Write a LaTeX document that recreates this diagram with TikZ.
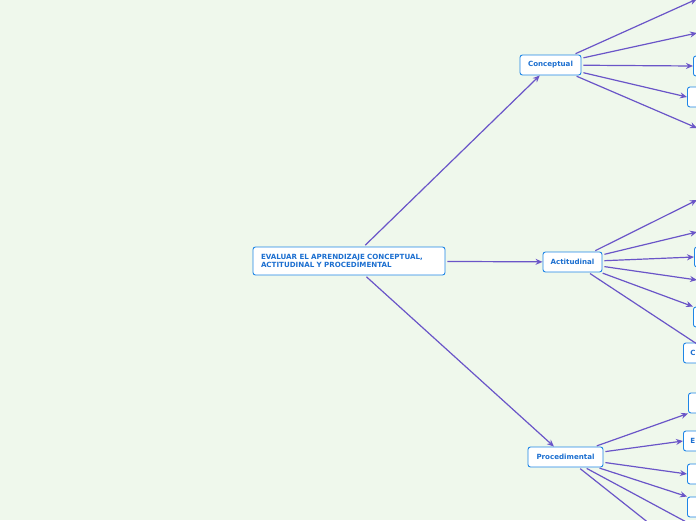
\documentclass[tikz,border=0pt]{standalone}
\usepackage{fontspec}
\setmainfont{DejaVu Sans}
\usetikzlibrary{arrows.meta}
\definecolor{bg}{HTML}{EFF8EC}
\definecolor{nodeborder}{HTML}{1E86E6}
\definecolor{nodetext}{HTML}{1C6FD0}
\definecolor{edgecol}{HTML}{6A55C8}
\tikzset{
  box/.style={draw=nodeborder, fill=white, rounded corners=2.5pt, line width=0.9pt,
    text=nodetext, font=\bfseries\fontsize{7.1}{8}\selectfont, inner sep=0pt, anchor=center},
  link/.style={draw=edgecol, line width=1.2pt, -{Stealth[length=7pt,width=6pt]}, shorten <=2pt},
}
\begin{document}
\begin{tikzpicture}[x=1pt,y=-1pt]
\fill[bg] (0,0) rectangle (696,520);
\useasboundingbox (0,0) rectangle (696,520);
\clip (0,0) rectangle (696,520);
% main nodes
\node[box, minimum width=192pt, minimum height=28pt, text width=176pt, align=left] (main) at (349,261)
  {EVALUAR EL APRENDIZAJE CONCEPTUAL,\\ACTITUDINAL Y PROCEDIMENTAL};
\node[box, minimum width=61pt, minimum height=20pt] (conc) at (550.5,65) {Conceptual};
\node[box, minimum width=59pt, minimum height=20pt] (acti) at (572.5,262) {Actitudinal};
\node[box, minimum width=75pt, minimum height=20pt] (proc) at (565.5,457) {Procedimental};
% partial nodes at right edge
\node[box, minimum width=40pt, minimum height=20pt, anchor=west] (c3) at (693,66) {};
\node[box, minimum width=40pt, minimum height=20pt, anchor=west] (c4) at (687,97) {};
\node[box, minimum width=40pt, minimum height=20pt, anchor=west] (a3) at (694,257) {};
\node[box, minimum width=40pt, minimum height=20pt, anchor=west] (a5) at (693,317) {};
\node[box, minimum width=40pt, minimum height=20pt, anchor=west, align=left, text width=34pt] (a6) at (683,353) {\hspace*{4pt}C};
\node[box, minimum width=40pt, minimum height=20pt, anchor=west] (p1) at (688,403) {};
\node[box, minimum width=40pt, minimum height=20pt, anchor=west, align=left, text width=34pt] (p2) at (683,441) {\hspace*{4pt}E};
\node[box, minimum width=40pt, minimum height=20pt, anchor=west] (p3) at (687,474) {};
\node[box, minimum width=40pt, minimum height=20pt, anchor=west] (p4) at (687,507) {};
% off-picture ends
\coordinate (c1) at (697,-1);
\coordinate (c2) at (697,33);
\coordinate (c5) at (697,128);
\coordinate (a1) at (697,200);
\coordinate (a2) at (697,232);
\coordinate (a4) at (697,280);
\coordinate (a6e) at (697,344);
\coordinate (p5) at (690,524);
\coordinate (p6) at (650,524);
% main links
\draw[link] (main) -- (conc);
\draw[link] (main) -- (acti);
\draw[link] (main) -- (proc);
% conceptual
\draw[link] (conc) -- (c1);
\draw[link] (conc) -- (c2);
\draw[link] (conc) -- (c3.west);
\draw[link] (conc) -- (c4.west);
\draw[link] (conc) -- (c5);
% actitudinal
\draw[link] (acti) -- (a1);
\draw[link] (acti) -- (a2);
\draw[link] (acti) -- (a3.west);
\draw[link] (acti) -- (a4);
\draw[link] (acti) -- (a5.north west);
\draw[link, -] (acti) -- (a6e);
% procedimental
\draw[link] (proc) -- (p1.south west);
\draw[link] (proc) -- (p2.west);
\draw[link] (proc) -- (p3.west);
\draw[link] (proc) -- (p4.north west);
\draw[link, -] (proc) -- (p5);
\draw[link, -] (proc) -- (p6);
\end{tikzpicture}
\end{document}
